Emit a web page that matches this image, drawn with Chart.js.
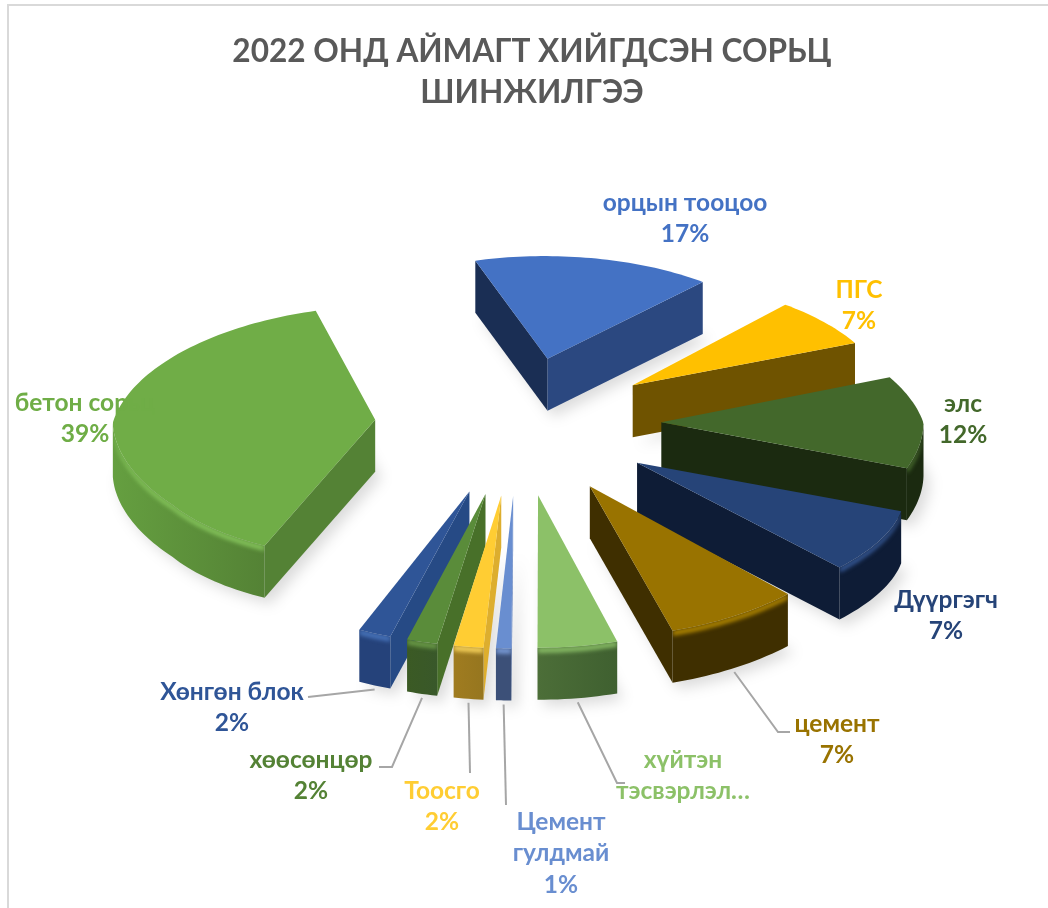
<!DOCTYPE html>
<html><head><meta charset="utf-8">
<script src="https://cdn.jsdelivr.net/npm/chart.js@4"></script>
<style>
html,body{margin:0;padding:0;background:#fff;width:1048px;height:908px;overflow:hidden}
#frame{position:absolute;left:7px;top:4px;width:1041px;height:904px;border-top:2px solid #d9d9d9;border-left:2px solid #d9d9d9;box-sizing:border-box}
#c{position:absolute;left:0;top:0}
</style></head><body>
<div id="frame"></div>
<canvas id="c" width="1048" height="908"></canvas>
<script>
const categories=["орцын тооцоо","ПГС","элс","Дүүргэгч","цемент","хүйтэн\nтэсвэрлэл…","Цемент\nгулдмай","Тоосго","хөөсөнцөр","Хөнгөн блок","бетон сорьц"];
const shares=[17,7,11.7,7.4,7.49,4.5,0.9,1.75,1.8,1.92,38.54];
const topColors=["#4472C4","#FFC000","#43682B","#264478","#997300","#8CC168","#698ED0","#FFCD33","#5A8C3A","#2F5597","#70AD47"];
const labelColors=["#4472C4","#FFC000","#43682B","#264478","#997300","#8CC168","#698ED0","#FFCD33","#548235","#2F5597","#70AD47"];
const startWallColors=["#1A2E54","#6F5300","#1B2A10","#0E1C36","#3F2F00","#8CC168","#4A6FB5","#DDAE2E","#487029","#264A85","#548235"];
const endWallColors=["#2B4880","#6F5300","#1B2A10","#0E1C36","#3F2F00","#3F6030","#3C5078","#96761F","#39582A","#25427A","#548235"];
const rimColors=["#2B4880","#6F5300","#1B2A10","#0E1C36","#3F2F00","#4C6E38","#3C5078","#A07C20","#3B5A24","#25427A","#659F40"];
const bevelColors=["#5585D6","#FFD040","#5C8A3C","#3A5FA0","#B88C00","#8CC168","#7FA2E0","#FFDA60","#6EA04A","#4A78C0","#88C85E"];
const labelCentres=[[685,203],[859,290],[963,404],[946,600],[837,724],[683,760],[561,822],[442,791],[311,760],[232,692],[85,403]];
const leaderRoutes=[null,null,null,null,[[778,732],[790,732]],[[617,783],[625,783]],[[506,805]],[[470,773]],[[392,767],[379,767]],[[308,697]],null];
const explode=60;

const VIEW={cx:518,cy:423,R:245,O:134,u:0.52,aNear:3000,aFar:2200,k:1.07,h:52};
function project(X,Y,z){
  const s=Y<0?VIEW.aFar/(VIEW.aFar-Y):VIEW.aNear/(VIEW.aNear-Y);
  const near=X>0?.09*Math.tanh(Math.max(0,Y-90)/110):.045*Math.tanh(Math.max(0,Y-150)/100);
  const sx=Y<0?VIEW.aFar/(VIEW.aFar-Y):1+near;
  return [VIEW.cx+X*VIEW.k*sx,VIEW.cy+Y*VIEW.u*s+z];
}
function sliceGeometry(arc,off){
  const K=VIEW.R/arc.outerRadius,O=off*VIEW.O/explode;
  const mid=(arc.startAngle+arc.endAngle)/2,ax=Math.cos(mid)*O,ay=Math.sin(mid)*O;
  const n=Math.max(6,Math.ceil((arc.endAngle-arc.startAngle)*40)),world=[];
  for(let i=0;i<=n;i++){const t=arc.startAngle+(arc.endAngle-arc.startAngle)*i/n;
    world.push([ax+Math.cos(t)*arc.outerRadius*K,ay+Math.sin(t)*arc.outerRadius*K]);}
  return {ax,ay,mid,world,midW:[ax+Math.cos(mid)*VIEW.R,ay+Math.sin(mid)*VIEW.R]};
}
function poly(ctx,pts){ctx.beginPath();pts.forEach((p,i)=>i?ctx.lineTo(p[0],p[1]):ctx.moveTo(p[0],p[1]));ctx.closePath();}
function wall(ctx,a,b,col){
  const A=project(a[0],a[1],0),B=project(b[0],b[1],0);
  if(B[0]-A[0]>=0)return;
  poly(ctx,[A,B,project(b[0],b[1],VIEW.h),project(a[0],a[1],VIEW.h)]);
  ctx.fillStyle=col;ctx.fill();
}
function rim(ctx,w,i){
  // one polygon for the run of outer-wall segments that face the viewer
  const scr=w.map(p=>project(p[0],p[1],0));let from=-1,to=-1;
  for(let j=0;j<w.length-1;j++)if(scr[j+1][0]<scr[j][0]){if(from<0)from=j;to=j+1;}
  if(from<0)return;
  const run=w.slice(from,to+1);
  const upper=run.map(p=>project(p[0],p[1],0)),lower=run.map(p=>project(p[0],p[1],VIEW.h));
  const xs=upper.map(p=>p[0]),g=ctx.createLinearGradient(Math.min(...xs),0,Math.max(...xs),0);
  g.addColorStop(0,rimColors[i]);g.addColorStop(1,endWallColors[i]);
  poly(ctx,[...upper,...lower.reverse()]);ctx.fillStyle=g;ctx.fill();
  // soft bevel along the top edge of the rim
  ctx.save();poly(ctx,[...upper,...run.map(p=>project(p[0],p[1],VIEW.h)).reverse()]);ctx.clip();
  ctx.filter='blur(2px)';
  poly(ctx,[...upper,...run.map(p=>project(p[0],p[1],5)).reverse()]);ctx.fillStyle=bevelColors[i];ctx.fill();
  ctx.restore();
}
const pie3d={id:'pie3d',beforeDatasetsDraw(chart){
  const ctx=chart.ctx,arcs=chart.getDatasetMeta(0).data;
  const geo=arcs.map((arc,i)=>Object.assign(sliceGeometry(arc,arc.options.offset),{i}));
  ctx.save();
  ctx.textAlign='center';ctx.textBaseline='middle';ctx.font='bold 24.5px Lato';
  const drawLabel=(i)=>{ctx.fillStyle=labelColors[i];const [x,y]=labelCentres[i];
    const lines=categories[i].split('\n');
    if(!categories[i].endsWith('…'))lines.push(Math.round(shares[i])+'%');
    lines.forEach((t,j)=>ctx.fillText(t,x,y+j*31.5));};
  categories.forEach((_,i)=>drawLabel(i));
  // ground shadow
  geo.forEach(g=>{const pts=[[g.ax,g.ay],...g.world].map(p=>project(p[0],p[1],VIEW.h));
    ctx.save();ctx.filter='blur(7px)';ctx.fillStyle='rgba(0,0,0,.14)';
    ctx.translate(6,6);poly(ctx,pts);ctx.fill();ctx.restore();});
  // leaders
  ctx.strokeStyle='#a6a6a6';ctx.lineWidth=2;
  geo.forEach(g=>{const r=leaderRoutes[g.i];if(!r)return;
    const p=project(g.midW[0],g.midW[1],VIEW.h);ctx.beginPath();ctx.moveTo(p[0],p[1]+4);
    r.forEach(q=>ctx.lineTo(q[0],q[1]));ctx.stroke();});
  // slices, far to near
  [...geo].sort((a,b)=>a.ay-b.ay).forEach(g=>{
    const apex=[g.ax,g.ay],w=g.world,i=g.i,first=w[0],last=w[w.length-1];
    wall(ctx,apex,first,startWallColors[i]);
    wall(ctx,last,apex,endWallColors[i]);
    rim(ctx,w,i);
    poly(ctx,[apex,...w].map(p=>project(p[0],p[1],0)));
    ctx.fillStyle=topColors[i];ctx.fill();
  });
  // the big slice sits over its label, which still shows through faintly
  ctx.globalAlpha=.1;drawLabel(10);
  ctx.restore();
  return false;
}};
new Chart(document.getElementById('c'),{
  type:'pie',
  data:{labels:categories,datasets:[{data:shares,backgroundColor:topColors,borderWidth:0,offset:explode,rotation:-18}]},
  options:{responsive:false,animation:false,
    layout:{padding:{left:16}},
    plugins:{legend:{display:false},tooltip:{enabled:false},
      title:{display:true,text:["2022 ОНД АЙМАГТ ХИЙГДСЭН СОРЬЦ","ШИНЖИЛГЭЭ"],color:'#595959',
        font:{family:'Lato',size:31.6,weight:'bold',lineHeight:1.3},padding:{top:31,bottom:10}}}},
  plugins:[pie3d]
});
</script>
</body></html>
